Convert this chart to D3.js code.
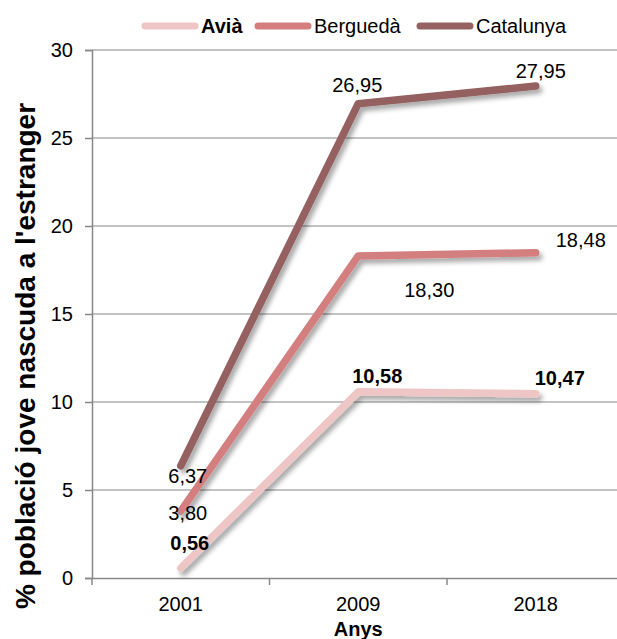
<!DOCTYPE html>
<html><head><meta charset="utf-8">
<script src="https://cdn.jsdelivr.net/npm/d3@7/dist/d3.min.js"></script>
<style>body{margin:0;background:#fff;} text{font-family:"Liberation Sans",Arial,sans-serif;}</style>
</head><body><svg id="c" width="617" height="639"></svg>
<script>
const years = ["2001","2009","2018"];
const seriesNames = ["Avià","Berguedà","Catalunya"];
const avia = [0.56, 10.58, 10.47];
const bergueda = [3.80, 18.30, 18.48];
const catalunya = [6.37, 26.95, 27.95];
const yTicks = [0,5,10,15,20,25,30];
const colors = ["#EEC6C6","#D47F7F","#956161"];

const series = [
  {name:seriesNames[0], values:avia, color:colors[0], bold:true,
   lab:[[9,-18],[19,-9],[24,-9]]},
  {name:seriesNames[1], values:bergueda, color:colors[1], bold:false,
   lab:[[7,9],[71,41],[45,-6]]},
  {name:seriesNames[2], values:catalunya, color:colors[2], bold:false,
   lab:[[7,17],[-1,-12],[5,-8]]}
];

const FS = 20;
const svg = d3.select("#c");
const left = 92;
const band = 177.5;
const x = d3.scaleBand().domain(years).range([left, left + band*3]).paddingInner(0).paddingOuter(0);
const y = d3.scaleLinear().domain([0,30]).range([578, 50]);

const defs = svg.append("defs");
const f = defs.append("filter").attr("id","sh").attr("x","-20%").attr("y","-20%").attr("width","140%").attr("height","140%");
f.append("feGaussianBlur").attr("in","SourceAlpha").attr("stdDeviation",2.5).attr("result","b");
f.append("feOffset").attr("in","b").attr("dx",3).attr("dy",4).attr("result","o");
f.append("feComponentTransfer").attr("in","o").attr("result","o2").append("feFuncA").attr("type","linear").attr("slope",0.35);
const m = f.append("feMerge"); m.append("feMergeNode").attr("in","o2"); m.append("feMergeNode").attr("in","SourceGraphic");

// gridlines
svg.append("g").selectAll("line").data(yTicks.filter(d=>d>0)).join("line")
  .attr("x1", left).attr("x2", 617).attr("y1", d=>y(d)).attr("y2", d=>y(d))
  .attr("stroke","#888").attr("stroke-width",1.2);

// y axis
const ya = svg.append("g").attr("transform",`translate(${left},0)`)
  .call(d3.axisLeft(y).tickValues(yTicks).tickSize(7).tickPadding(12));
ya.select(".domain").attr("stroke","#888").attr("stroke-width",1.5);
ya.selectAll(".tick line").attr("stroke","#888").attr("stroke-width",1.5);
ya.selectAll(".tick text").attr("font-size",FS).attr("fill","#000").attr("font-family","Liberation Sans, Arial, sans-serif");

// x axis
const xa = svg.append("g").attr("transform",`translate(0,${y(0)})`)
  .call(d3.axisBottom(x).tickSize(0).tickPadding(19));
xa.select(".domain").attr("stroke","#888").attr("stroke-width",1.5);
xa.selectAll(".tick text").attr("font-size",FS).attr("fill","#000").attr("font-family","Liberation Sans, Arial, sans-serif");
svg.append("g").selectAll("line").data([0,1,2,3]).join("line")
  .attr("x1", i=>left+band*i).attr("x2", i=>left+band*i)
  .attr("y1", y(0)).attr("y2", y(0)+7).attr("stroke","#888").attr("stroke-width",1.5);

// titles
svg.append("text").attr("transform",`translate(35,356) rotate(-90)`)
  .attr("text-anchor","middle").attr("font-size",28).attr("font-weight","bold")
  .text("% població jove nascuda a l'estranger");
svg.append("text").attr("x", x("2009")+x.bandwidth()/2).attr("y",636)
  .attr("text-anchor","middle").attr("font-size",FS).attr("font-weight","bold").text("Anys");

// lines
const line = d3.line().x((d,i)=>x(years[i])+x.bandwidth()/2).y(d=>y(d));
const lg = svg.append("g");
series.forEach(s=>{
  lg.append("path").attr("d", line(s.values)).attr("fill","none")
    .attr("stroke", s.color).attr("stroke-width",7.5).attr("stroke-linecap","round").attr("stroke-linejoin","round")
    .attr("filter","url(#sh)");
});

// labels
series.forEach(s=>{
  svg.append("g").selectAll("text").data(s.values).join("text")
    .attr("x",(d,i)=>x(years[i])+x.bandwidth()/2 + s.lab[i][0])
    .attr("y",(d,i)=>y(d)+s.lab[i][1])
    .attr("text-anchor","middle").attr("font-size",FS)
    .attr("font-weight", s.bold?"bold":"normal")
    .text(d=>d3.format(".2f")(d).replace(".",","));
});

// legend
const legX = [142, 255, 417];
const leg = svg.append("g");
series.forEach((s,i)=>{
  leg.append("line").attr("x1",legX[i]+3).attr("x2",legX[i]+53).attr("y1",26).attr("y2",26)
    .attr("stroke",s.color).attr("stroke-width",7).attr("stroke-linecap","round");
  leg.append("text").attr("x",legX[i]+59).attr("y",33).attr("font-size",FS)
    .attr("font-weight", s.bold?"bold":"normal").text(s.name);
});
</script></body></html>
